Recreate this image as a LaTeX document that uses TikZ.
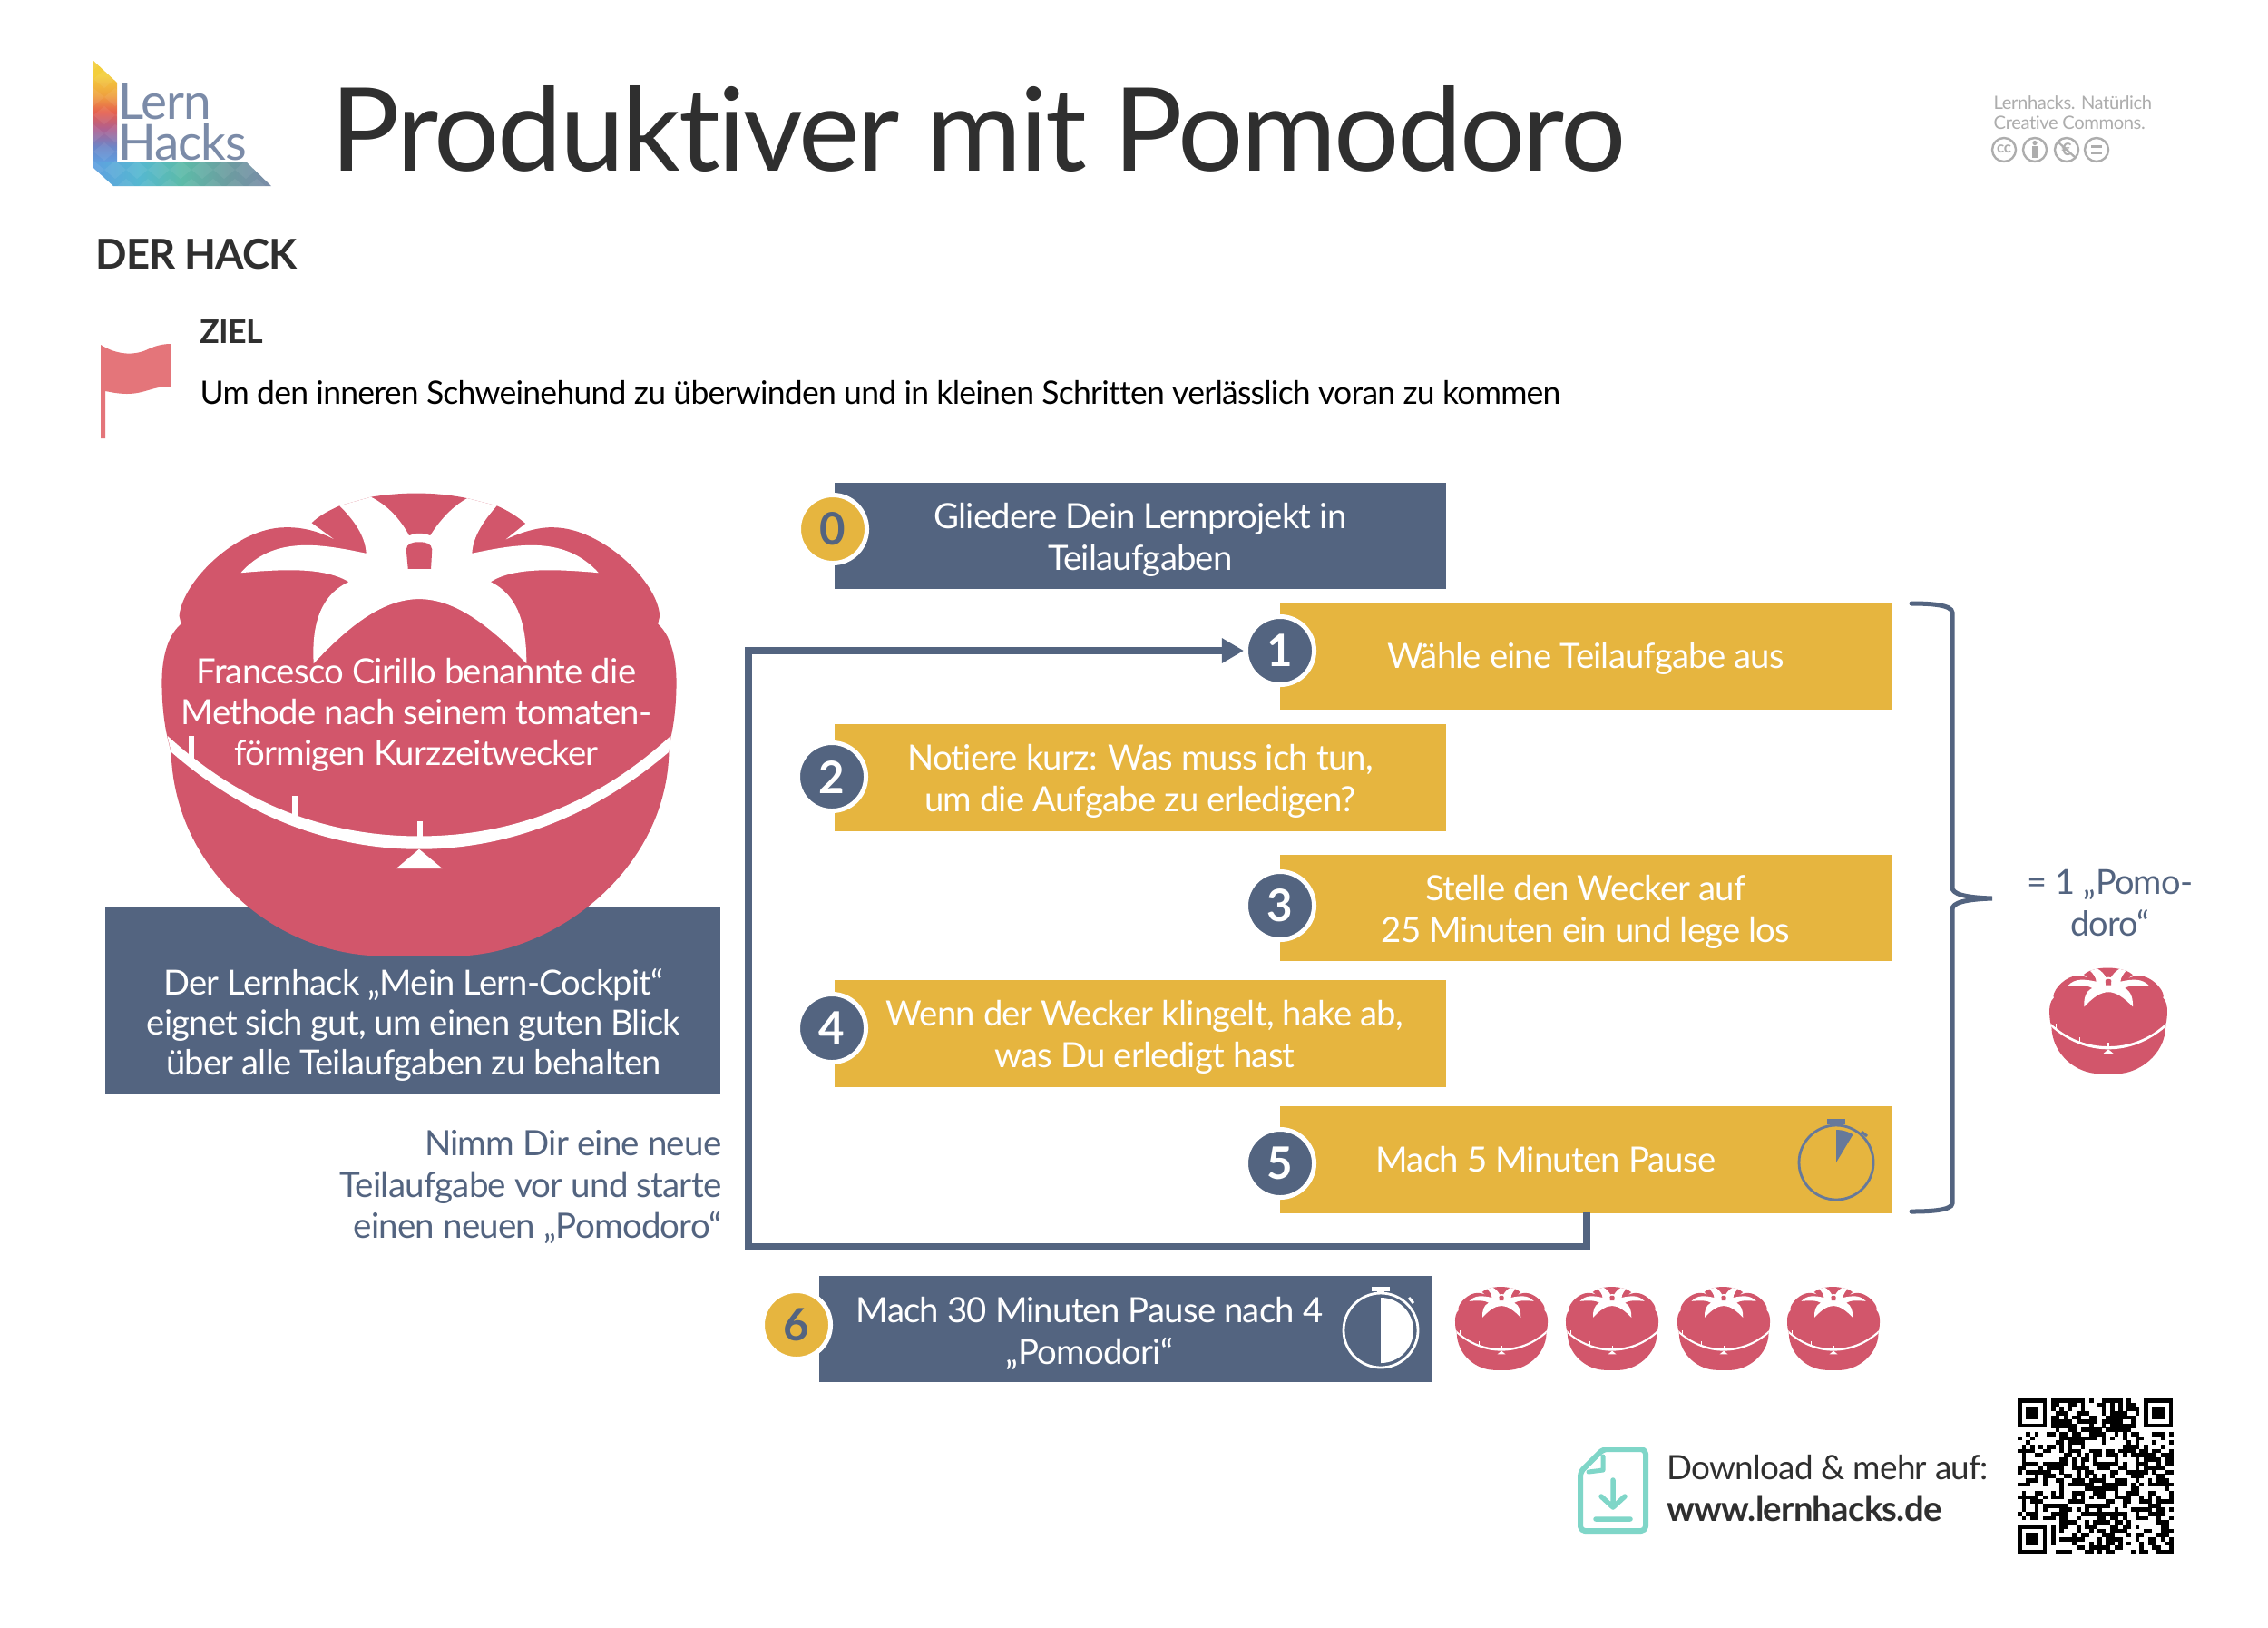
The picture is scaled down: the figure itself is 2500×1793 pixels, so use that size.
\documentclass[tikz,border=0pt]{standalone}
\usepackage{fontspec}
\usetikzlibrary{arrows.meta,shapes.geometric}
\setmainfont{Lato}[LetterSpace=-2.1,Ligatures=NoCommon]
\definecolor{navy}{HTML}{536480}
\definecolor{gold}{HTML}{E6B53F}
\definecolor{tomred}{HTML}{D2566B}
\definecolor{flagred}{HTML}{E4757A}
\definecolor{ink}{HTML}{2F2F2F}
\definecolor{swatch}{HTML}{66799A}
\definecolor{mint}{HTML}{7FD6C8}
\definecolor{ccgray}{HTML}{ADADAD}
\definecolor{lg1}{HTML}{5FA0E0}
\definecolor{lg2}{HTML}{6C86C8}
\definecolor{lg3}{HTML}{B0608F}
\definecolor{lg4}{HTML}{E5604F}
\definecolor{lg5}{HTML}{EFA03F}
\definecolor{lg6}{HTML}{F3CE3C}
\definecolor{lh2}{HTML}{55B8D0}
\definecolor{lh3}{HTML}{5DBBA8}
\definecolor{lh4}{HTML}{6C9CA0}
\definecolor{lh5}{HTML}{7B8BA8}
\pgfdeclareverticalshading{logov}{100bp}{color(0bp)=(lg1);color(25bp)=(lg1);color(33bp)=(lg2);color(42bp)=(lg3);color(50bp)=(lg4);color(58bp)=(lg5);color(68bp)=(lg6);color(100bp)=(lg6)}
\pgfdeclarehorizontalshading{logoh}{100bp}{color(0bp)=(lg1);color(25bp)=(lg1);color(38bp)=(lh2);color(50bp)=(lh3);color(63bp)=(lh4);color(75bp)=(lh5);color(100bp)=(lh5)}
\newcommand{\tomato}[3]{%
\begin{scope}[shift={(#1,#2)},xscale=0.408*#3,yscale=0.357*#3,shift={(-765,-782)}]
\fill[tomred] (635,78) .. controls (720,62) and (810,62) .. (895,82) -- (975,105) .. controls (1005,120) and (1030,138) .. (1052,160) -- (995,212) .. controls (1050,180) and (1100,170) .. (1130,172) .. controls (1260,175) and (1410,340) .. (1415,445) -- (1410,470) .. controls (1450,510) and (1460,590) .. (1460,650) .. controls (1460,710) and (1455,770) .. (1445,820) -- (1440,868) .. controls (1430,1240) and (1120,1495) .. (860,1495) -- (670,1495) .. controls (380,1495) and (105,1230) .. (95,868) -- (85,820) .. controls (75,770) and (70,710) .. (70,650) .. controls (70,590) and (80,510) .. (122,470) -- (117,445) .. controls (125,340) and (270,175) .. (400,172) .. controls (440,170) and (490,180) .. (540,212) -- (475,158) .. controls (495,135) and (525,118) .. (550,105) -- cycle;
\fill[white] (635,78) .. controls (690,110) and (720,160) .. (738,197) .. controls (755,188) and (775,188) .. (795,197) .. controls (815,160) and (850,110) .. (895,82) -- (975,105) .. controls (940,150) and (910,200) .. (908,252) .. controls (1040,220) and (1160,200) .. (1250,312) .. controls (1130,300) and (1020,295) .. (958,340) .. controls (1040,385) and (1055,490) .. (1055,592) .. controls (950,470) and (860,393) .. (765,393) .. controls (670,393) and (580,470) .. (480,592) .. controls (475,490) and (490,385) .. (575,340) .. controls (510,295) and (400,300) .. (283,312) .. controls (370,200) and (490,220) .. (622,252) .. controls (620,200) and (590,150) .. (550,105) -- cycle;
\fill[tomred] (735,300) -- (730,240) .. controls (732,222) and (745,217) .. (765,217) .. controls (785,217) and (798,222) .. (800,240) -- (797,300) -- cycle;
\fill[white] (85,815) .. controls (290,1030) and (520,1125) .. (765,1125) .. controls (1010,1125) and (1240,1030) .. (1445,815) -- (1440,865) .. controls (1240,1060) and (1010,1165) .. (765,1165) .. controls (520,1165) and (290,1060) .. (95,865) -- cycle;
\fill[white] (142,815) rectangle (158,895);
\fill[white] (422,1000) rectangle (438,1075);
\fill[white] (759,1078) rectangle (775,1130);
\fill[white] (765,1165) -- (703,1225) -- (828,1225) -- cycle;
\end{scope}}
\tikzset{
  x=0.01cm,y=-0.01cm,
  stepbox/.style={minimum width=6.74cm,minimum height=1.17cm,inner sep=0pt,outer sep=0pt},
  navybox/.style={stepbox,fill=navy},
  goldbox/.style={stepbox,fill=gold},
  whitetext/.style={text=white,align=center,inner sep=0pt,font=\fontsize{10.9}{13.1}\selectfont},
  navytext/.style={text=navy,inner sep=0pt,font=\fontsize{10.9}{13}\selectfont},
  badge/.style={circle,minimum size=0.75cm,inner sep=0pt,draw=white,line width=0.05cm,font=\bfseries\fontsize{14}{14}\selectfont},
  navybadge/.style={badge,fill=navy,text=white},
  goldbadge/.style={badge,fill=gold,text=navy},
  connector/.style={draw=navy,line width=0.08cm,miter limit=10},
  plain/.style={inner sep=0pt,anchor=base west},
}
\begin{document}
\begin{tikzpicture}
\useasboundingbox (0,0) rectangle (2500,1793);
\fill[white] (0,0) rectangle (2500,1793);
% logo
\begin{scope}
\clip (103,67) -- (129,91) -- (129,177) -- (272,179) -- (299,205) -- (125,205) -- (103,185) -- cycle;
\shade[shading=logov] (103,67) rectangle (129,180);
\shade[shading=logoh] (103,178) rectangle (299,205);
\foreach \i in {0,...,9} \foreach \j in {0,...,7}{
  \pgfmathsetmacro\cx{103+\i*24+mod(\j,2)*12}
  \pgfmathsetmacro\cy{67+\j*20}
  \fill[white,opacity=0.07] (\cx,\cy-10) -- (\cx+12,\cy) -- (\cx,\cy+10) -- (\cx-12,\cy) -- cycle;
}
\end{scope}
\node[inner sep=0pt,text=lh5,align=left,anchor=south west,font=\fontsize{15.6}{12.8}\selectfont] (lern) at (130,177.5) {Lern\\Hacks};
% title
\node[plain,text=ink,font=\fontsize{36.3}{40}\selectfont] (title) at (364,188) {Produktiver mit Pomodoro};
% cc
\node[plain,text=ccgray,font=\fontsize{5.75}{7}\selectfont] (cc1) at (2197,120) {Lernhacks. Natürlich};
\node[plain,text=ccgray,font=\fontsize{5.75}{7}\selectfont] (cc2) at (2197,142) {Creative Commons.};
\foreach \cxx in {2209,2243,2278,2311}
  \draw[ccgray,line width=0.024cm] (\cxx,165) circle (13);
\node[text=ccgray,inner sep=0pt,font=\bfseries\fontsize{4.8}{5}\selectfont] (ccc) at (2209,164) {cc};
\fill[ccgray] (2243,157.5) circle (2.6);
\fill[ccgray] (2239.5,161) rectangle (2246.5,174);
\node[text=ccgray,inner sep=0pt,font=\bfseries\fontsize{5.4}{5}\selectfont] (cce) at (2278,165) {€};
\draw[ccgray,line width=0.022cm] (2268,156) -- (2288,174);
\draw[ccgray,line width=0.028cm] (2305,161.5) -- (2317,161.5) (2305,168.5) -- (2317,168.5);
% heading
\node[plain,text=ink,font=\bfseries\fontsize{12.9}{15}\selectfont] (hack) at (105,296) {DER HACK};
\node[plain,text=ink,font=\bfseries\fontsize{10.2}{12}\selectfont] (ziel) at (220,378) {ZIEL};
\node[plain,text=black,font=\fontsize{10.1}{12}\selectfont] (goal) at (220,445) {Um den inneren Schweinehund zu überwinden und in kleinen Schritten verlässlich voran zu kommen};
% flag
\fill[flagred] (111,380) .. controls (130,392) and (150,392) .. (165,384) .. controls (172,381) and (180,379) .. (188,379) -- (188,426) .. controls (170,425) and (160,434) .. (140,434) .. controls (130,434) and (122,432) .. (116,431) -- (116,483) -- (111,483) -- cycle;
% left box + tomato
\node[fill=navy,minimum width=6.78cm,minimum height=2.06cm,inner sep=0pt] (cockpit) at (455,1103) {};
\tomato{462}{799}{1}
\node[whitetext,font=\fontsize{10.9}{12.8}\selectfont] (cirillo) at (459,787.5) {Francesco Cirillo benannte die\\Methode nach seinem tomaten-\\förmigen Kurzzeitwecker};
\node[whitetext,font=\fontsize{10.85}{12.5}\selectfont] (cockpitt) at (456,1129.5) {Der Lernhack „Mein Lern-Cockpit“\\eignet sich gut, um einen guten Blick\\über alle Teilaufgaben zu behalten};
\node[navytext,align=right,anchor=east,font=\fontsize{10.95}{12.8}\selectfont] (nimm) at (796,1308) {Nimm Dir eine neue\\Teilaufgabe vor und starte\\einen neuen „Pomodoro“};
% boxes
\node[navybox] (b0) at (1257,590.5) {};
\node[whitetext] at (1257,595) {Gliedere Dein Lernprojekt in\\Teilaufgaben};
\node[goldbox] (b1) at (1748,723.5) {};
\node[whitetext] at (1748,726) {Wähle eine Teilaufgabe aus};
\node[goldbox] (b2) at (1257,857) {};
\node[whitetext] at (1257,860.5) {Notiere kurz: Was muss ich tun,\\um die Aufgabe zu erledigen?};
\node[goldbox] (b3) at (1748,1000.5) {};
\node[whitetext] at (1748,1005) {Stelle den Wecker auf\\25 Minuten ein und lege los};
\node[goldbox] (b4) at (1257,1139) {};
\node[whitetext] at (1262,1143) {Wenn der Wecker klingelt, hake ab,\\was Du erledigt hast};
\node[goldbox] (b5) at (1748,1278) {};
\node[whitetext] at (1704,1277.5) {Mach 5 Minuten Pause};
\node[navybox] (b6) at (1240.5,1464.5) {};
\node[whitetext] at (1201,1469) {Mach 30 Minuten Pause nach 4\\„Pomodori“};
% connector
\node[navybadge] (n1) at (1411,717) {1};
\coordinate (lp) at (1749,1336);
\coordinate (lb) at (1749,1374);
\coordinate (ll) at (825,1374);
\coordinate (lt) at (825,717);
\draw[connector,-{Triangle[length=0.24cm,width=0.26cm]}] (lp) -- (lb) -- (ll) -- (lt) -- (n1.west);
% badges
\node[goldbadge] (n0) at (918,583) {0};
\node[navybadge] (n2) at (917,856) {2};
\node[navybadge] (n3) at (1411,998) {3};
\node[navybadge] (n4) at (917,1133) {4};
\node[navybadge] (n5) at (1411,1282) {5};
\node[goldbadge] (n6) at (878,1460) {6};
% stopwatch 5
\draw[swatch,line width=0.028cm] (2024,1281) circle (41);
\fill[swatch] (2014,1233) rectangle (2034,1239);
\fill[swatch] (2020,1239) rectangle (2028,1241);
\fill[swatch] (2024,1281) -- (2024,1245) arc[start angle=-90,end angle=-59,radius=36] -- cycle;
\draw[swatch,line width=0.03cm] (2052,1247) -- (2058,1252);
% stopwatch 6
\draw[white,line width=0.028cm] (1522,1466) circle (41);
\fill[white] (1512,1418) rectangle (1532,1423);
\fill[white] (1518,1423) rectangle (1526,1426);
\fill[white] (1522,1430) arc[start angle=-90,end angle=90,radius=36] -- cycle;
\draw[white,line width=0.03cm] (1553,1430) -- (1558,1436);
% brace
\draw[navy,line width=0.05cm,line cap=round] (2107,665) .. controls (2125,665) and (2152,666) .. (2152,675) -- (2152,978) .. controls (2152,985) and (2165,989) .. (2196,990) .. controls (2165,991) and (2152,995) .. (2152,1002) -- (2152,1326) .. controls (2152,1334) and (2125,1335) .. (2107,1335);
\node[navytext,align=center,font=\fontsize{10.8}{12.9}\selectfont] (eq) at (2326,995) {= 1 „Pomo-\\doro“};
\tomato{2324}{1125}{0.229}
\tomato{1655}{1464}{0.18}
\tomato{1777}{1464}{0.18}
\tomato{1900}{1464}{0.18}
\tomato{2021}{1464}{0.18}
% download
\draw[mint,line width=0.06cm,line join=round,rounded corners=0.05cm] (1767,1597) -- (1814,1597) -- (1814,1687) -- (1742,1687) -- (1742,1622) -- cycle;
\draw[mint,line width=0.05cm,line cap=round,line join=round] (1767,1605) -- (1767,1620) -- (1751,1622);
\draw[mint,line width=0.055cm,line cap=round,line join=round] (1778,1631) -- (1778,1661) (1765,1649) -- (1778,1661) -- (1791,1649) (1759,1674) -- (1797,1674);
\node[plain,text=ink,font=\fontsize{10.5}{12}\selectfont] (dl) at (1837,1630) {Download \& mehr auf:};
\node[plain,text=ink,font=\bfseries\fontsize{10.9}{12}\selectfont] (web) at (1837,1676) {www.lernhacks.de};
% QR
\begin{scope}[shift={(2224,1541)},x=0.0463cm,y=-0.0463cm]
\pgfmathsetseed{20}
\foreach \i in {0,...,36}{\foreach \j in {0,...,36}{
  \pgfmathparse{(\i<8 && \j<8) || (\i>28 && \j<8) || (\i<8 && \j>28) ? 1 : 0}
  \ifnum\pgfmathresult=0\relax
    \pgfmathparse{int(rnd*100)}
    \ifnum\pgfmathresult<52\relax \fill[black] (\i,\j) rectangle ++(1.02,1.02);\fi
  \fi
}}
\foreach \a/\b in {0/0,30/0,0/30}{
  \fill[black] (\a,\b) rectangle ++(7,7);
  \fill[white] (\a+1,\b+1) rectangle ++(5,5);
  \fill[black] (\a+2,\b+2) rectangle ++(3,3);
}
\end{scope}
\end{tikzpicture}
\end{document}
